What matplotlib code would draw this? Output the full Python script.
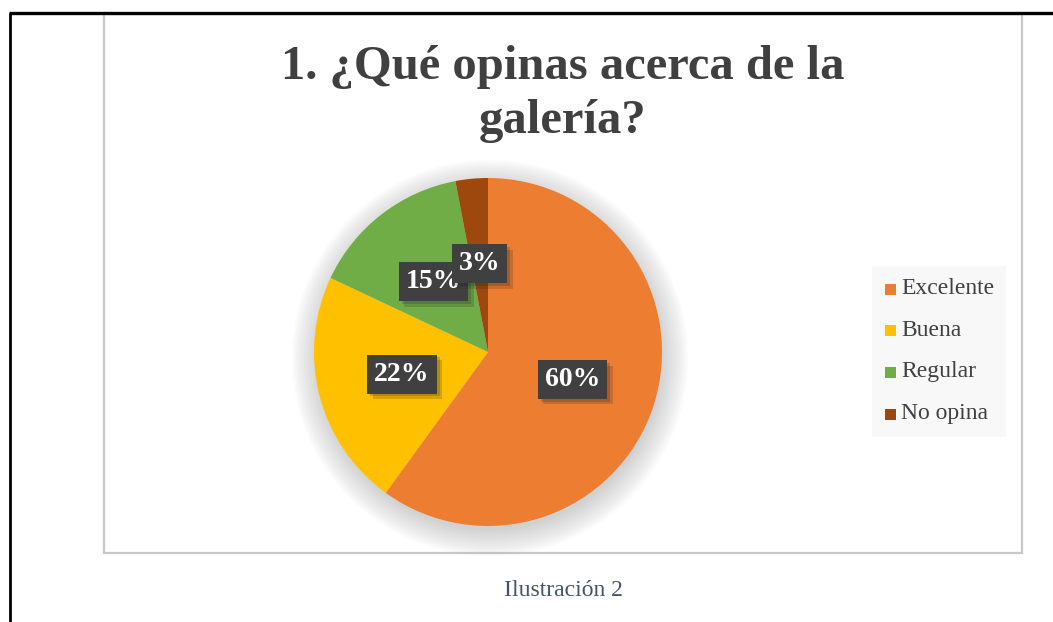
import numpy as np
import matplotlib.pyplot as plt
import matplotlib.patheffects as pe
from matplotlib.patches import Rectangle, Circle

# data
categories = ["Excelente", "Buena", "Regular", "No opina"]
values = [60, 22, 15, 3]
colors = ["#ED7D31", "#FFC000", "#70AD47", "#9E480E"]
title = "1. ¿Qué opinas acerca de la\ngalería?"
caption = "Ilustración 2"

W, H = 1053, 622
fig = plt.figure(figsize=(W / 100, H / 100), dpi=100)
ax = fig.add_axes([0, 0, 1, 1])
serif = ["Liberation Serif", "DejaVu Serif"]

# page border (black) and chart frame (gray), in pixel coords (y up)
ax.plot([9, W], [H - 13, H - 13], color="black", lw=2.4, solid_capstyle="butt")
ax.plot([10, 10], [H - 13, 0], color="black", lw=2.0, solid_capstyle="butt")
ax.add_patch(Rectangle((104, H - 553), 918, 539, fill=False, ec="#C8C8C8", lw=1.6))

# pie soft shadow
cx, cy, r = 488, H - 352, 174
for k in range(14):
    ax.add_patch(Circle((cx + 2, cy - 6), r + 24 - k * 2, color="#9A9A9A", alpha=0.035, lw=0, zorder=1))

wedges, texts, autotexts = ax.pie(values, colors=colors, startangle=90, counterclock=False,
                                  center=(cx, cy), radius=r, frame=True,
                                  autopct=lambda p: f"{p:.0f}%", pctdistance=0.51,
                                  wedgeprops=dict(lw=0, zorder=2))
for i, t in enumerate(autotexts):
    t.set_fontfamily(serif)
    t.set_fontweight("bold")
    t.set_fontsize(20)
    t.set_color("white")
    t.set_zorder(5 + i)
    t.set_bbox(dict(boxstyle="square,pad=0.25", fc="#404040", ec="none"))
    t.get_bbox_patch().set_path_effects([
        pe.SimplePatchShadow(offset=(4, -4), shadow_rgbFace="#202020", alpha=0.18),
        pe.SimplePatchShadow(offset=(2, -2), shadow_rgbFace="#202020", alpha=0.2),
        pe.Normal()])

ax.text(563, H - 94, title, ha="center", va="center", fontsize=35, fontweight="bold",
        color="#404040", family=serif, linespacing=1.32)

# legend
ax.add_patch(Rectangle((872, H - 437), 134, 171, fc="#F8F8F8", ec="none", zorder=1))
leg_y = [289, 330, 372, 414]
for lab, col, y in zip(categories, colors, leg_y):
    ax.add_patch(Rectangle((885, H - y - 6), 11, 11, fc=col, ec="none", zorder=3))
    ax.text(901, H - y, lab, ha="left", va="center", fontsize=17, color="#404040", family=serif)

ax.text(563, H - 591, caption, ha="center", va="center", fontsize=17, color="#44546A", family=serif)

ax.set_xlim(0, W)
ax.set_ylim(0, H)
ax.set_aspect("auto")
ax.axis("off")
fig.savefig("out.png", dpi=100)
